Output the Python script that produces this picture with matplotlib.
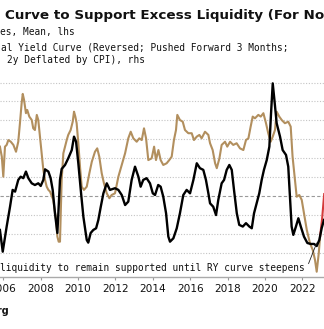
import matplotlib.pyplot as plt

# excess liquidity z-score (lhs)
liq_years = [2005.83, 2005.98, 2006.19, 2006.37, 2006.51, 2006.64, 2006.81, 2006.94, 2007.08, 2007.22,
             2007.35, 2007.53, 2007.70, 2007.88, 2008.01, 2008.15, 2008.24, 2008.42, 2008.54, 2008.65,
             2008.77, 2008.90, 2009.04, 2009.13, 2009.31, 2009.48, 2009.67, 2009.79, 2009.90, 2010.02,
             2010.15, 2010.29, 2010.47, 2010.55, 2010.68, 2010.82, 2010.97, 2011.09, 2011.22, 2011.36,
             2011.54, 2011.71, 2011.98, 2012.16, 2012.34, 2012.52, 2012.69, 2012.87, 2013.05, 2013.23,
             2013.35, 2013.49, 2013.67, 2013.85, 2014.00, 2014.12, 2014.29, 2014.42, 2014.56, 2014.71,
             2014.83, 2014.92, 2015.10, 2015.28, 2015.45, 2015.63, 2015.81, 2015.99, 2016.17, 2016.35,
             2016.52, 2016.70, 2016.84, 2016.97, 2017.06, 2017.23, 2017.38, 2017.50, 2017.68, 2017.81,
             2017.95, 2018.09, 2018.22, 2018.34, 2018.49, 2018.62, 2018.81, 2018.98, 2019.16, 2019.29,
             2019.41, 2019.55, 2019.69, 2019.82, 2019.94, 2020.09, 2020.23, 2020.32, 2020.41, 2020.50,
             2020.62, 2020.80, 2020.94, 2021.12, 2021.24, 2021.33, 2021.42, 2021.51, 2021.65, 2021.78,
             2021.91, 2022.08, 2022.26, 2022.44, 2022.62, 2022.76, 2022.90, 2023.03, 2023.15]
liq_vals = [-1.80, -2.95, -1.62, -0.57, 0.32, 0.23, 0.85, 1.02, 0.94, 1.29,
            0.94, 0.67, 0.58, 0.67, 0.53, 0.85, 1.41, 1.29, 0.94, 0.32,
            -0.90, -1.96, 0.85, 1.43, 1.64, 1.99, 2.43, 3.14, 2.87, 1.73,
            0.32, -1.10, -2.33, -2.47, -1.96, -1.80, -1.71, -1.27, -0.57, 0.14,
            0.67, 0.32, 0.41, 0.32, 0.05, -0.48, -0.30, 0.85, 1.55, 1.02,
            0.49, 0.85, 0.94, 0.67, 0.14, 0.05, 0.58, 0.49, -0.04, -0.92,
            -2.15, -2.42, -2.24, -1.71, -0.92, 0.05, 0.32, 0.14, 0.85, 1.73,
            1.47, 1.38, 0.85, 0.14, -0.39, -0.57, -1.01, -0.21, 0.67, 0.85,
            1.38, 1.64, 1.38, 0.32, -0.92, -1.53, -1.62, -1.44, -1.62, -1.71,
            -0.92, -0.39, 0.14, 0.85, 1.38, 1.90, 2.61, 4.38, 5.96, 5.08,
            3.85, 3.14, 2.43, 2.17, 1.55, -0.04, -1.62, -2.06, -1.62, -1.18,
            -1.62, -2.15, -2.49, -2.54, -2.54, -2.65, -2.33, -1.69, -1.27]

# real yield curve, reversed, pushed forward 3 months (rhs)
ry_years = [2005.83, 2005.93, 2006.01, 2006.10, 2006.19, 2006.28, 2006.41, 2006.55, 2006.69, 2006.81,
            2006.90, 2006.99, 2007.05, 2007.12, 2007.22, 2007.29, 2007.40, 2007.53, 2007.61, 2007.70,
            2007.80, 2007.88, 2007.97, 2008.06, 2008.15, 2008.24, 2008.33, 2008.42, 2008.51, 2008.68,
            2008.83, 2008.90, 2008.97, 2009.04, 2009.13, 2009.22, 2009.31, 2009.40, 2009.48, 2009.61,
            2009.72, 2009.79, 2009.86, 2009.93, 2010.02, 2010.11, 2010.20, 2010.32, 2010.47, 2010.61,
            2010.74, 2010.91, 2011.03, 2011.14, 2011.27, 2011.39, 2011.54, 2011.68, 2011.80, 2011.98,
            2012.16, 2012.34, 2012.52, 2012.69, 2012.82, 2012.96, 2013.14, 2013.28, 2013.41, 2013.53,
            2013.64, 2013.76, 2013.94, 2014.07, 2014.17, 2014.30, 2014.42, 2014.56, 2014.74, 2014.88,
            2015.01, 2015.13, 2015.24, 2015.31, 2015.45, 2015.60, 2015.72, 2015.90, 2016.08, 2016.20,
            2016.35, 2016.49, 2016.61, 2016.79, 2016.97, 2017.06, 2017.20, 2017.33, 2017.42, 2017.56,
            2017.68, 2017.86, 2017.98, 2018.13, 2018.30, 2018.48, 2018.66, 2018.84, 2018.98, 2019.11,
            2019.23, 2019.34, 2019.46, 2019.64, 2019.77, 2019.91, 2020.05, 2020.17, 2020.30, 2020.41,
            2020.53, 2020.62, 2020.76, 2020.89, 2021.06, 2021.24, 2021.37, 2021.47, 2021.60, 2021.69,
            2021.83, 2021.96, 2022.08, 2022.23, 2022.40, 2022.55, 2022.67, 2022.76, 2022.87, 2022.94]
ry_vals = [2.61, 2.08, 1.02, 2.61, 2.70, 2.96, 2.87, 2.70, 2.34, 2.87,
           3.85, 4.90, 5.40, 5.08, 4.38, 4.55, 4.20, 4.02, 3.58, 3.49,
           4.29, 4.02, 3.14, 2.26, 1.38, 0.85, 0.49, 0.32, 0.23, -0.21,
           -1.27, -2.15, -2.42, -2.42, 0.85, 2.26, 2.61, 2.96, 3.23, 3.49,
           3.93, 4.46, 4.20, 3.85, 2.79, 1.55, 0.49, 0.32, 0.49, 1.20,
           1.81, 2.34, 2.52, 2.08, 1.20, 0.67, 0.14, -0.12, 0.05, 0.14,
           1.02, 1.64, 2.26, 3.05, 3.40, 3.05, 2.87, 3.05, 2.96, 3.58,
           3.05, 1.90, 1.99, 2.61, 1.90, 2.43, 1.90, 1.64, 1.73, 1.90,
           2.08, 2.96, 3.49, 4.29, 4.02, 3.93, 3.49, 3.32, 3.32, 2.96,
           3.14, 3.23, 3.05, 3.40, 3.23, 2.79, 2.43, 1.73, 1.47, 1.99,
           2.70, 2.87, 2.61, 2.87, 2.70, 2.79, 2.52, 2.43, 2.96, 3.05,
           3.67, 4.20, 4.11, 4.29, 4.20, 4.38, 3.85, 3.32, 2.87, 3.14,
           3.49, 4.46, 4.20, 4.02, 3.85, 3.93, 3.67, 2.08, 0.85, -0.04,
           0.05, -0.21, -0.92, -1.80, -2.50, -2.86, -3.39, -4.01, -3.03, -2.15]

# latest readings shown in red
last_years = [2022.94, 2023.05, 2023.16]
last_vals = [-2.15, -1.20, 0.10]

year_ticks = [2006, 2008, 2010, 2012, 2014, 2016, 2018, 2020, 2022]

fig = plt.figure(figsize=(3.24, 3.29), dpi=100)
ax = fig.add_axes([0.0, 0.158, 1.0, 0.5927])
ax2 = ax.twinx()

ylo, yhi = -4.29, 6.03
for a in (ax, ax2):
    a.set_xlim(2005.834, 2023.15)
    a.set_ylim(ylo, yhi)
    for s in ['top', 'left', 'right']:
        a.spines[s].set_visible(False)
    a.tick_params(axis='y', length=0, labelleft=False, labelright=False)
ax2.spines['bottom'].set_visible(False)

for g in range(-3, 7):
    if g == 0:
        ax2.axhline(g, color='#9a9a9a', lw=0.8, ls=(0, (3, 2)), zorder=0)
    else:
        ax2.axhline(g, color='#c4c4c4', lw=0.8, ls=(0, (1, 1.5)), zorder=0)

ax2.plot(ry_years, ry_vals, color='#b28f5e', lw=1.5, zorder=2)
ax2.plot(last_years, last_vals, color='#d43a3a', lw=1.5, zorder=2)
ax.plot(liq_years, liq_vals, color='black', lw=1.7, zorder=3)
ax.set_zorder(ax2.get_zorder() + 1)
ax.patch.set_visible(False)

ax.set_xticks(year_ticks)
ax.set_xticklabels([str(y) for y in year_ticks])
ax.tick_params(axis='x', length=2.2, width=0.8, color='#999999', pad=3,
               labelsize=7.6, labelcolor='#111111')
ax.spines['bottom'].set_color('#aaaaaa')
ax.spines['bottom'].set_linewidth(1.0)

ax.annotate('liquidity to remain supported until RY curve steepens',
            xy=(2022.76, -2.49), xytext=(2005.86, -3.97),
            ha='left', va='baseline', fontsize=6.85, family='DejaVu Sans Mono',
            color='#111111',
            arrowprops=dict(arrowstyle='-', lw=0.6, color='#222222',
                            relpos=(1.0, 0.1), shrinkA=1, shrinkB=0))

H = 329.0
fig.text(5 / 324, 1 - 18.5 / H, 'Curve to Support Excess Liquidity (For Now)',
         fontsize=9.7, fontweight='bold', va='baseline', ha='left', color='#111111')
fig.text(0.0, 1 - 35.5 / H, 'es, Mean, lhs', fontsize=6.85,
         family='DejaVu Sans Mono', va='baseline', ha='left', color='#111111')
fig.text(1 / 324, 1 - 50.7 / H, 'al Yield Curve (Reversed; Pushed Forward 3 Months;',
         fontsize=6.85, family='DejaVu Sans Mono', va='baseline', ha='left', color='#111111')
fig.text(7 / 324, 1 - 62.7 / H, '2y Deflated by CPI), rhs', fontsize=6.85,
         family='DejaVu Sans Mono', va='baseline', ha='left', color='#111111')
fig.text(9 / 324, 1 - 313.5 / H, 'Bloomberg', fontsize=7, fontweight='bold',
         va='baseline', ha='right', color='#111111')

fig.savefig('out.png', dpi=100)
